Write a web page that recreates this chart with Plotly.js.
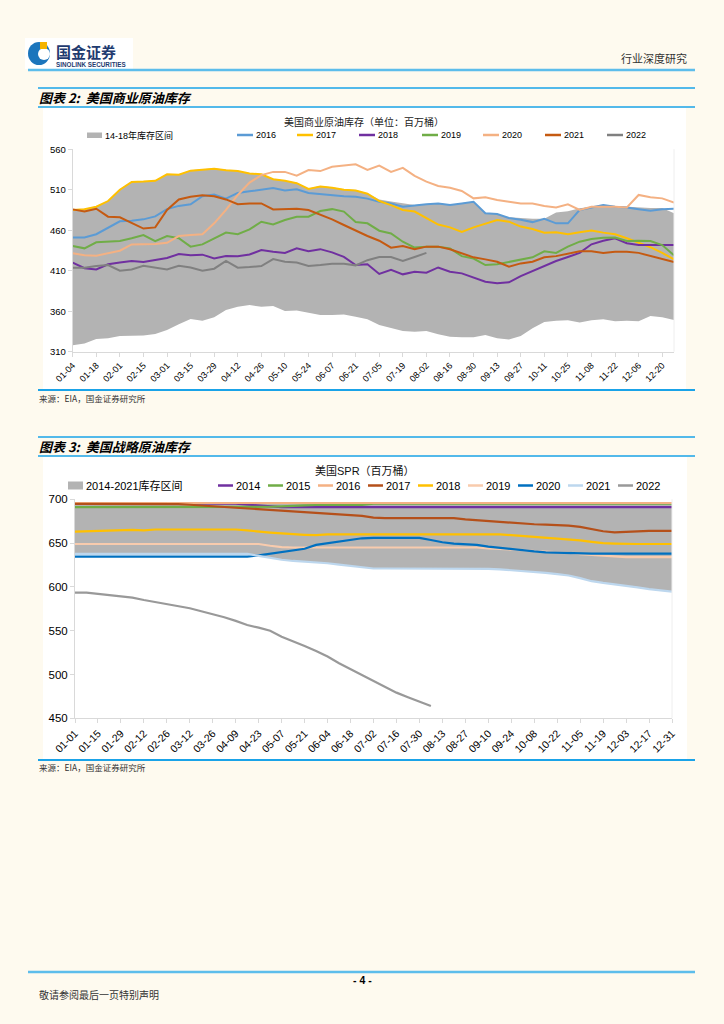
<!DOCTYPE html>
<html><head><meta charset="utf-8">
<script src="https://cdn.plot.ly/plotly-3.0.1.min.js"></script>
<style>html,body{margin:0;padding:0;background:#FEFAEF;}#chart{width:724px;height:1024px;}</style>
</head><body><div id="chart"></div>
<script>
// ---------- Chart 1 : US commercial crude inventories (weekly, million bbl) ----------
const labels1 = ["01-04","01-18","02-01","02-15","03-01","03-15","03-29","04-12","04-26","05-10","05-24","06-07","06-21","07-05","07-19","08-02","08-16","08-30","09-13","09-27","10-11","10-25","11-08","11-22","12-06","12-20"];
const band1Lower = [318,320,325.6,326.5,329.3,329.8,330,332,336.7,344,350.3,348.3,352.4,361.4,365.6,367.6,365.6,366.4,360.2,361,358.6,355.3,355.3,356,353.2,350,
  343,338.8,335.5,334.7,335.5,331.4,328.5,327.7,327.7,330.6,326.5,325.2,329.3,338.8,346.6,348.3,348.7,346.2,348.7,350,347.5,348.3,347.7,354,352.4,349];
const band1Upper = [485.5,486.5,489.5,496.5,510.5,520,520.5,521.5,529.5,529,534,535,536.5,534.5,533.5,530.5,529.5,523.5,521.5,518.5,511.5,514.5,513,510.5,509.5,505.5,
  498,495.5,493.5,491,492.5,493.5,491.5,493.5,495.5,481,480,476,475,474,474,482,483.5,487,489,491,490,489,488.5,487.5,487.5,481];
const c1y2016 = [451,451,455,463.5,471,471.8,473.4,477,486,490,492,502,504,499,506,508,510,512,509,510.5,506,504.7,503,502,501.4,499,
  495,493,489,490.7,492,493,491,493,495,481,480,475,473,470,474,468.5,468.5,485,488,491,489,488,486,484,486,486.6];
const c1y2017 = [485,486,489,496,510,519.5,520,521,529,528.6,533.5,534.3,536,534,533,530,529,523,521,518,511,514,512.5,510,509,505,
  496,491,485,483,474.6,467,463.5,458,463.5,468.5,472.6,470.5,464.5,461.5,457,457.4,455,457.4,459.5,457,455,450,444.6,439,432,424];
const c1y2018 = [420,413,411.6,418,420,422,420.7,423,425.6,430.6,429,429.8,425,428,427.7,430,435.5,433.5,432,437.6,434,436.6,432.6,427,417,418,
  406,411,405.5,408.8,407.5,414,408.8,406.7,401.8,396.4,394.4,395.6,403.4,409.6,416,422,427,432,442.6,447,450,444,441.7,441.7,441.7,441.7];
const c1y2019 = [440.5,437.6,445,445.8,446.6,450,454,446.6,452.8,450,439.7,442.5,450,457,455,461,470.5,467,472.6,476.7,476.7,483.7,486,483,470,468.5,
  459.4,456,445.8,438.5,439.7,439.7,437.6,428,425,417,418,420.7,423,426.5,434,432,439.7,445.8,449,450.7,451,446.6,447,446.6,441.7,429];
const c1y2020 = [431.5,429,428.6,431.5,434.7,442.5,442.5,443,444.5,452.8,454,455,468.5,485,503.5,518.7,528,532,532,527.3,534.3,533,538.4,539.7,541.3,534.3,
  539.7,532,537,527,520,514.6,512.5,508.4,499.3,500.6,497.3,495.2,493,493,490,488,492,485,489,489,489,488,503.5,500.6,499.3,494];
const c1y2021 = [485.7,483,486.5,476.7,476,468.5,462,463.5,485,498,501.4,503,502,498,492,493,493,485.7,485.7,486.5,485,479.6,473.4,466.4,459.4,452.8,
  447,438.5,440.5,436.4,439.7,439.7,436.4,431.5,426.5,424,421,415,419,421,426.5,428,431.4,434,434,432,433.5,433.5,432,428,424,420.7];
const c1y2022 = [413.7,413.7,415.8,417,410,411.6,416,414,411.6,416,414,410,412.5,422,413.7,414.5,415.8,424.4,421,420,415.8,417,418.6,418.6,416.6,423,427,427,422,427,432];
const c1Ticks = [310,360,410,460,510,560];

// ---------- Chart 2 : US SPR (weekly, million bbl) ----------
const labels2 = ["01-01","01-15","01-29","02-12","02-26","03-12","03-26","04-09","04-23","05-07","05-21","06-04","06-18","07-02","07-16","07-30","08-13","08-27","09-10","09-24","10-08","10-22","11-05","11-19","12-03","12-17","12-31"];
const band2Upper = [697,697,697,697,697,697,697,697,697,697,697,697,697,697,697,697,697,697,697,697,697,
  696.5,696.5,696.5,696.5,696.5,696.5,696.5,696.5,696.5,696.5,696.5,696.5,696.5,696.5,696.5,696.5,696.5,696.5,696.5,696.5,696.5,696.5,696.5,696.5,696.5,696.5,696.5,696.5,696.5,696.5,696.5,696.5];
const band2Lower = [637.6,637.6,637.6,637.6,637.6,637.6,637.6,637.6,637.6,637.6,637.6,637.6,637.6,637.6,637.6,637.6,
  635.5,633,631,629.6,628.8,628,627,625.5,624,622.5,621,621,621,621,621,621,621,621,621,621,
  620.5,620,619,618,617.4,616,614.5,613,610,606.5,604.5,603,601.5,599.5,597.5,596,594.6];
const s2014 = [695.5,695.5,695.5,695.5,695.5,695.5,695.5,695.5,695.5,695.5,695.5,695.5,695.5,695.5,695,694,693,692.5,
  691,691,691,691,691,691,691,691,691,691,691,691,691,691,691,691,691,691,691,691,691,691,691,691,691,691,691,691,691,691,691,691,691,691,691];
const s2015 = [691,691,691,691,691,691,691,691,691,691,691,691,691,691,691,691,691,691.5,692,692.8,693,693.5,693.5,693.5,693.5,693.5,
  695,695,695,695,695,695,695,695,695,695,695,695,695,695,695,695,695,695,695,695,695,695,695,695,695,695,695];
const s2016 = [695.8,695.8,695.8,695.8,695.8,695.8,695.8,695.8,695.8,695.8,695.8,695.8,695.8,695.8,695.8,695.8,695.8,695.8,695.8,695.8,695.8,695.8,695.8,695.8,695.8,695.8,
  695.8,695.8,695.8,695.8,695.8,695.8,695.8,695.8,695.8,695.8,695.8,695.8,695.8,695.8,695.8,695.8,695.8,695.8,695.8,695.8,695.8,695.8,695.8,695.8,695.8,695.8,695.8];
const s2017 = [694.7,694.7,694.7,694.7,694.7,694.7,694.7,694.7,694.7,694.5,693.8,693,692,691.3,690.6,690,689,688,687.5,686.7,685.7,684.7,683.6,682.8,682,681,
  679,678.5,678.5,678.5,678.5,678.5,678.5,678.5,677,676,675,674,673,672,671.5,671,670.5,670,668.5,666,663.5,662.3,663,663.5,664,664,664];
const s2018 = [663,663.5,664,664,665,665,664.5,665.5,665.5,665.5,665.5,665.5,665.5,665.5,665.5,664.5,663,662,661,660,659.5,659,
  660,660,660,660,660,660,660,660,660,660,660,660,660,660,660,660,659,658,657,656.5,655,654.5,653,651.5,650,649.5,649,649,649,649,649];
const s2019 = [649,649,649,649,649,649,649,649,649,649,649,649,649,649,649,649,649,647,645.5,
  645,645,645,645,645,645,645,645,645,645,645,645,645,645,645,645,645,644,643.5,643,642,641,640.5,640,639,637.5,636.5,635.5,635,634,634,634,634,634];
const s2020 = [634.5,634.5,634.5,634.5,634.5,634.5,634.5,634.5,634.5,634.5,634.5,634.5,634.5,634.5,634.5,634.5,
  636,638,640,642,643.5,648,650,652,654,655.5,656,656,656,656,656,
  653.5,651,649.5,648.5,648,646,644.5,643,642,640.5,639.5,639,638.8,638.5,638,638,638,638,638,638,638,638];
const s2021 = [637.6,637.6,637.6,637.6,637.6,637.6,637.6,637.6,637.6,637.6,637.6,637.6,637.6,637.6,637.6,637.6,
  635.5,633,631,629.6,628.8,628,627,625.5,624,622.5,621,621,621,621,621,621,621,621,621,621,
  620.5,620,619,618,617.4,616,614.5,613,610,606.5,604.5,603,601.5,599.5,597.5,596,594.6];
const s2022 = [593.5,593.5,592,590.8,589.3,587.8,585,582.8,580.5,577.9,575.6,572.2,569,565.4,561.2,556.5,553.5,550,543.2,538.3,532.6,526.9,520.5,512.9,506,500,493,485.4,479.3,474,469,464];
const c2Ticks = [450,500,550,600,650,700];

// ---------- helpers (layout only) ----------
const W = 724, H = 1024;
const X = p => p / W, Y = p => 1 - p / H;
const idx = a => a.map((_, i) => i);
const evenIdx = a => a.map((_, k) => 2 * k);
const NUM = "Liberation Sans, Arial, sans-serif";
const CJK = "Noto Sans CJK SC, sans-serif";
const BAND = "#B3B3B3";

const series1 = [
  {name:"2016", y:c1y2016, color:"#5B9BD5", lx:237},
  {name:"2017", y:c1y2017, color:"#FFC000", lx:297},
  {name:"2018", y:c1y2018, color:"#7030A0", lx:359},
  {name:"2019", y:c1y2019, color:"#70AD47", lx:422},
  {name:"2020", y:c1y2020, color:"#F4B183", lx:483},
  {name:"2021", y:c1y2021, color:"#C55A11", lx:545},
  {name:"2022", y:c1y2022, color:"#808080", lx:607}
];
const series2 = [
  {name:"2014", y:s2014, color:"#7030A0", lx:218},
  {name:"2015", y:s2015, color:"#70AD47", lx:268},
  {name:"2016", y:s2016, color:"#F4B183", lx:318},
  {name:"2017", y:s2017, color:"#B5501A", lx:368},
  {name:"2018", y:s2018, color:"#FFC000", lx:418},
  {name:"2019", y:s2019, color:"#F8CBAD", lx:468},
  {name:"2020", y:s2020, color:"#0070C0", lx:518},
  {name:"2021", y:s2021, color:"#BDD7EE", lx:568},
  {name:"2022", y:s2022, color:"#999999", lx:618}
];

const traces = [];
traces.push({x:idx(band1Lower), y:band1Lower, type:"scatter", mode:"lines", line:{width:0}, hoverinfo:"skip", showlegend:false, xaxis:"x", yaxis:"y"});
traces.push({x:idx(band1Upper), y:band1Upper, type:"scatter", mode:"lines", line:{width:0}, fill:"tonexty", fillcolor:BAND, hoverinfo:"skip", showlegend:false, xaxis:"x", yaxis:"y"});
series1.forEach(s => traces.push({x:idx(s.y), y:s.y, type:"scatter", mode:"lines", name:s.name, line:{color:s.color, width:2}, showlegend:false, xaxis:"x", yaxis:"y"}));
traces.push({x:idx(band2Lower), y:band2Lower, type:"scatter", mode:"lines", line:{width:0}, hoverinfo:"skip", showlegend:false, xaxis:"x2", yaxis:"y2"});
traces.push({x:idx(band2Upper), y:band2Upper, type:"scatter", mode:"lines", line:{width:0}, fill:"tonexty", fillcolor:BAND, hoverinfo:"skip", showlegend:false, xaxis:"x2", yaxis:"y2"});
series2.forEach(s => traces.push({x:idx(s.y), y:s.y, type:"scatter", mode:"lines", name:s.name, line:{color:s.color, width:2.2}, showlegend:false, xaxis:"x2", yaxis:"y2"}));

const shapes = [];
const hline = (x0, x1, y, color, w) => shapes.push({type:"line", xref:"paper", yref:"paper", x0:X(x0), x1:X(x1), y0:Y(y), y1:Y(y), line:{color:color, width:w}});
const rect = (x0, y0, x1, y1, fill, layer) => shapes.push({type:"rect", xref:"paper", yref:"paper", x0:X(x0), x1:X(x1), y0:Y(y1), y1:Y(y0), fillcolor:fill, line:{width:0}, layer:layer || "below"});

// logo
rect(25, 38, 133, 69, "#FFFFFF");
shapes.push({type:"circle", xref:"paper", yref:"paper", x0:X(28), x1:X(50), y0:Y(65), y1:Y(42), fillcolor:"#1B75BC", line:{width:0}, layer:"below"});
shapes.push({type:"circle", xref:"paper", yref:"paper", x0:X(38), x1:X(50), y0:Y(60), y1:Y(48), fillcolor:"#FFFFFF", line:{width:0}, layer:"below"});
rect(40, 42, 47, 49, "#F5B400");
// header / section lines
hline(28, 695, 70, "#5DBDEB", 2.5);
hline(38, 695, 88, "#1AA3E8", 1.5);
hline(38, 695, 107, "#1AA3E8", 1.5);
rect(43, 108, 686, 389, "#FFFFFF");
hline(38, 695, 390, "#1AA3E8", 2);
hline(38, 695, 437, "#1AA3E8", 1.5);
hline(38, 695, 456, "#1AA3E8", 1.5);
rect(43, 457, 687, 759, "#FFFFFF");
hline(38, 695, 760, "#1AA3E8", 2);
hline(28, 695, 972, "#5DBDEB", 2.5);
// right border faint lines of plot areas
shapes.push({type:"line", xref:"paper", yref:"paper", x0:X(674), x1:X(674), y0:Y(351.7), y1:Y(149.2), line:{color:"#EEEEEE", width:1}});
shapes.push({type:"line", xref:"paper", yref:"paper", x0:X(672), x1:X(672), y0:Y(718.3), y1:Y(499.3), line:{color:"#EEEEEE", width:1}});

const ann = [];
const txt = (x, y, text, size, opts) => ann.push(Object.assign({xref:"paper", yref:"paper", x:X(x), y:Y(y), text:text, showarrow:false, xanchor:"left", yanchor:"middle", font:{family:CJK, size:size, color:"#000"}}, opts || {}));

txt(54, 51, "<b>国金证券</b>", 15, {font:{family:CJK, size:15, color:"#1F3B70"}});
txt(54, 64, "<b>SINOLINK SECURITIES</b>", 6.3, {font:{family:NUM, size:6.3, color:"#1F3B70"}});
txt(689, 58, "行业深度研究", 11, {xanchor:"right", font:{family:CJK, size:11, color:"#333"}});
txt(37, 97, "<b><i>图表 2:  美国商业原油库存</i></b>", 13, {font:{family:CJK, size:13, color:"#000", style:"italic"}});
txt(37, 446, "<b><i>图表 3:  美国战略原油库存</i></b>", 13, {font:{family:CJK, size:13, color:"#000", style:"italic"}});
txt(364, 121, "美国商业原油库存（单位：百万桶）", 10, {xanchor:"center", font:{family:CJK, size:10, color:"#222"}});
txt(365, 470, "美国SPR（百万桶）", 11, {xanchor:"center", font:{family:NUM + ", " + CJK, size:11, color:"#111"}});
txt(37, 398, "来源：EIA，国金证券研究所", 8.5, {font:{family:CJK, size:8.5, color:"#333"}});
txt(37, 767, "来源：EIA，国金证券研究所", 8.5, {font:{family:CJK, size:8.5, color:"#333"}});
txt(362, 980, "<b>- 4 -</b>", 10.5, {xanchor:"center", font:{family:NUM, size:10.5, color:"#000"}});
txt(37, 994, "敬请参阅最后一页特别声明", 10, {font:{family:CJK, size:10, color:"#333"}});

// legend chart 1
rect(87, 132.5, 102, 138, BAND);
txt(103, 135, "14-18年库存区间", 9, {font:{family:NUM + ", " + CJK, size:9, color:"#000"}});
series1.forEach(s => { hline(s.lx, s.lx + 16, 135, s.color, 2.5); txt(s.lx + 16.5, 135, s.name, 9, {font:{family:NUM, size:9, color:"#000"}}); });
// legend chart 2
rect(68, 481.5, 83, 489.5, BAND);
txt(84, 485.5, "2014-2021库存区间", 11, {font:{family:NUM + ", " + CJK, size:11, color:"#000"}});
series2.forEach(s => { hline(s.lx, s.lx + 15, 485.5, s.color, 2.5); txt(s.lx + 15.5, 485.5, s.name, 11, {font:{family:NUM, size:11, color:"#000"}}); });

const axLine = "#D9D9D9";
const layout = {
  width: W, height: H, margin:{l:0, r:0, t:0, b:0}, showlegend:false,
  paper_bgcolor:"#FEFAEF", plot_bgcolor:"#FFFFFF",
  xaxis:{domain:[X(72.7), X(674)], range:[0, 51], anchor:"y", tickmode:"array", tickvals:evenIdx(labels1), ticktext:labels1, tickangle:-45,
    tickfont:{family:NUM, size:9, color:"#000"}, showline:true, linecolor:axLine, linewidth:1, ticks:"outside", ticklen:4, tickcolor:axLine,
    showgrid:false, zeroline:false, fixedrange:true},
  yaxis:{domain:[Y(351.7), Y(149.2)], range:[310, 560], anchor:"x", tickmode:"array", tickvals:c1Ticks,
    tickfont:{family:NUM, size:9.5, color:"#000"}, showline:true, linecolor:axLine, linewidth:1, ticks:"outside", ticklen:4, tickcolor:axLine,
    showgrid:false, zeroline:false, fixedrange:true},
  xaxis2:{domain:[X(75), X(672)], range:[0, 52], anchor:"y2", tickmode:"array", tickvals:evenIdx(labels2), ticktext:labels2, tickangle:-45,
    tickfont:{family:NUM, size:10.5, color:"#000"}, showline:true, linecolor:axLine, linewidth:1, ticks:"outside", ticklen:4, tickcolor:axLine,
    showgrid:false, zeroline:false, fixedrange:true},
  yaxis2:{domain:[Y(718.3), Y(499.3)], range:[450, 700], anchor:"x2", tickmode:"array", tickvals:c2Ticks,
    tickfont:{family:NUM, size:11.5, color:"#000"}, showline:true, linecolor:axLine, linewidth:1, ticks:"outside", ticklen:4, tickcolor:axLine,
    showgrid:false, zeroline:false, fixedrange:true},
  shapes: shapes, annotations: ann
};
Plotly.newPlot("chart", traces, layout, {staticPlot:true, displayModeBar:false});
</script></body></html>
